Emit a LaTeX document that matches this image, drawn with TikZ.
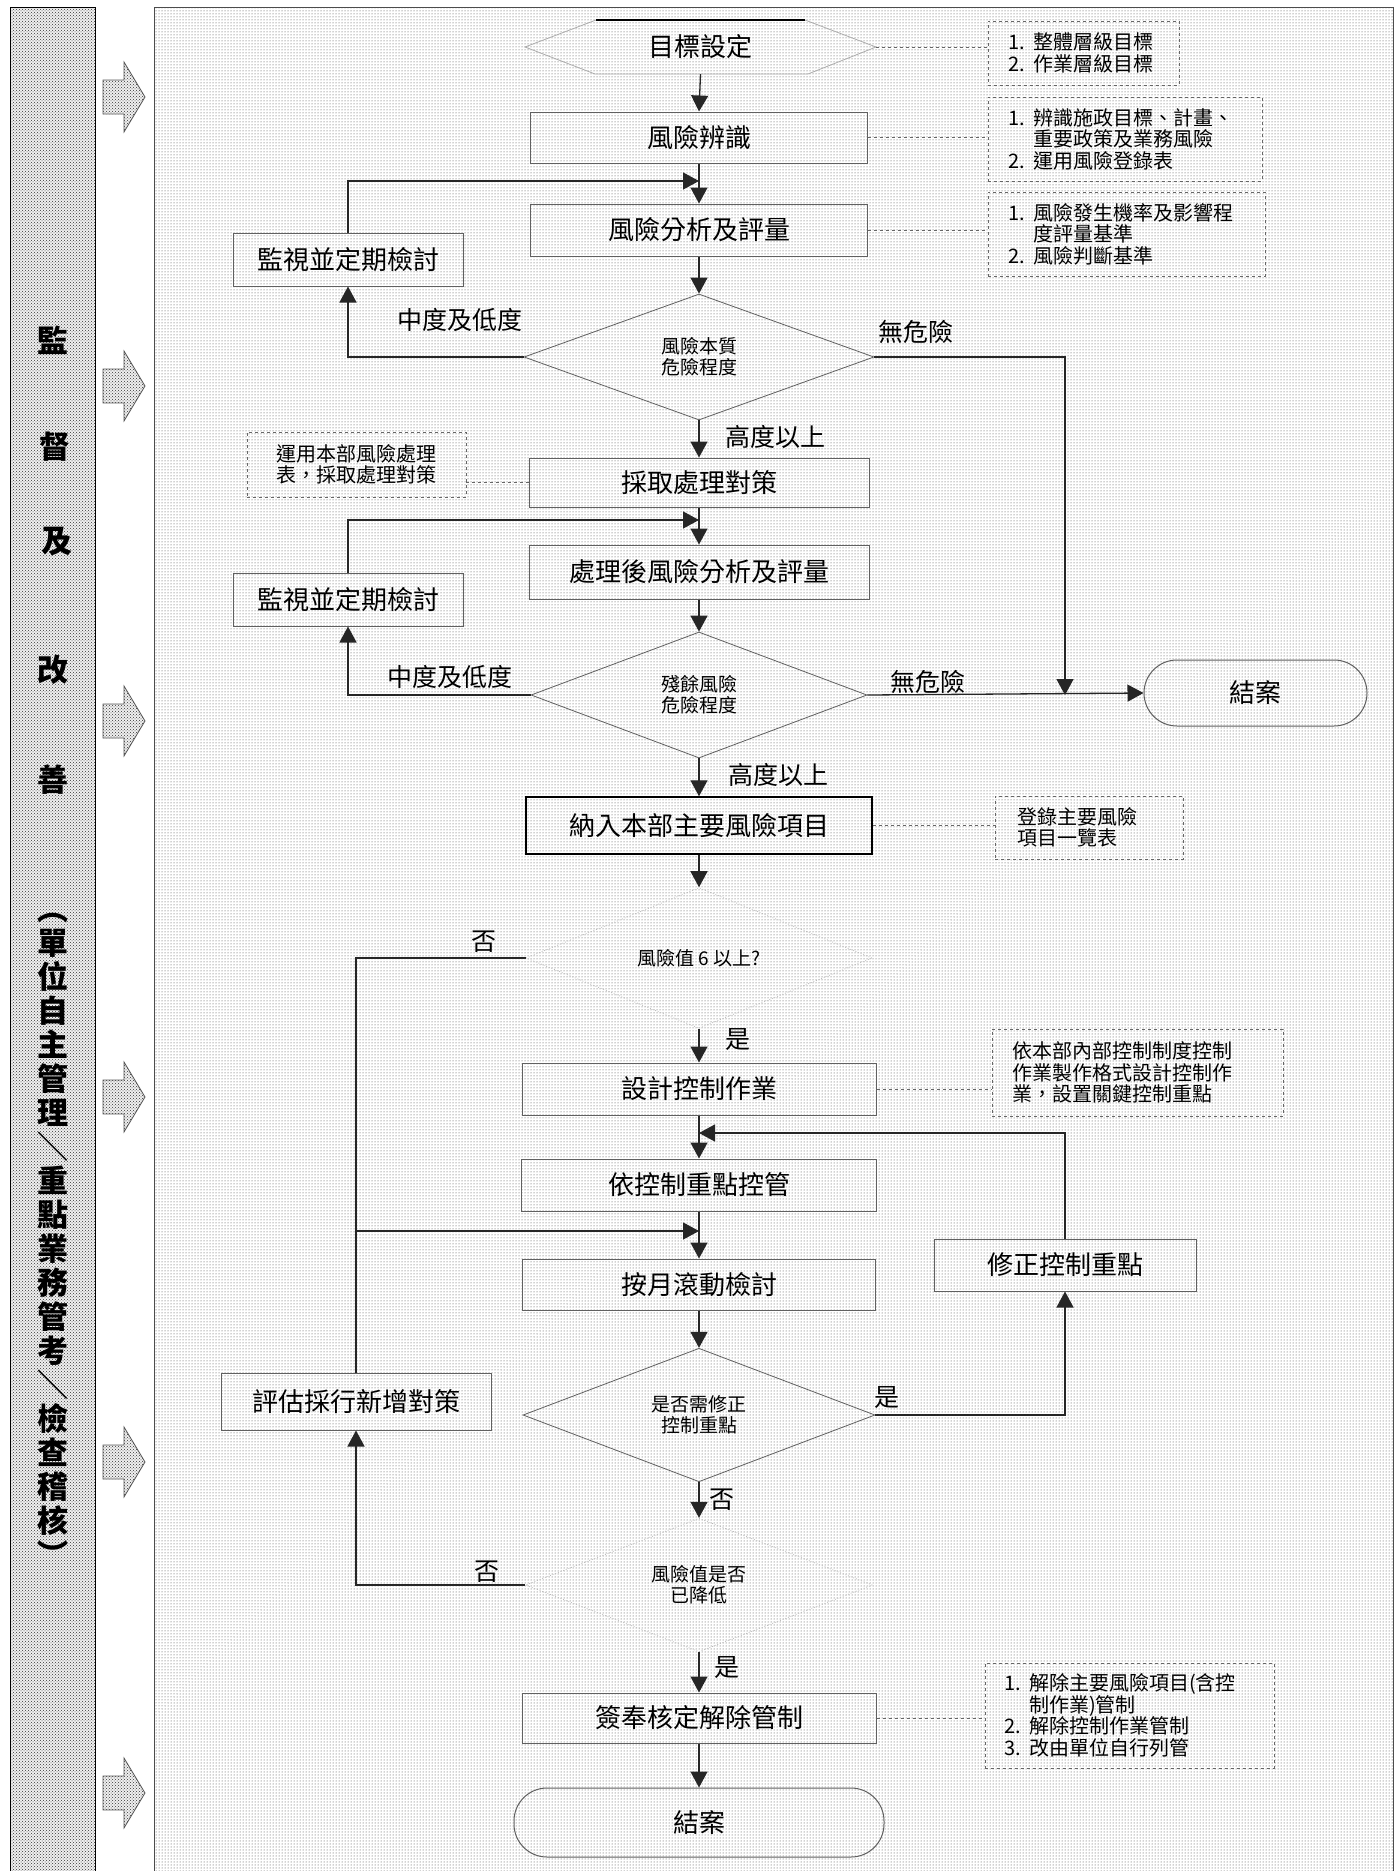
\documentclass[tikz,border=0pt]{standalone}
\usepackage{fontspec}
\setmainfont{Noto Sans CJK TC}
\usetikzlibrary{shapes.geometric,arrows.meta,patterns}
\newcommand\numlab[1]{\makebox[25pt][l]{#1}}
\begin{document}
\begin{tikzpicture}[x=1pt,y=-1pt,
  conn/.style={draw=black!85, line width=1.3pt},
  arr/.style={conn, -{Triangle[length=16pt,width=17pt]}},
  box/.style={draw=gray!75!black, line width=1pt, inner sep=0pt, font=\fontsize{26}{30}\selectfont},
  dia/.style={diamond, draw=gray!75!black, line width=0.8pt, inner sep=0pt, align=center, font=\fontsize{19}{21}\selectfont},
  faintdia/.style={dia, draw=gray!55, dotted},
  note/.style={draw=gray!80!black, dashed, line width=0.8pt, inner sep=0pt, align=left, font=\fontsize{20}{21.5}\selectfont},
  lbl/.style={font=\fontsize{25}{27}\selectfont, inner sep=0pt},
  side/.style={font=\fontsize{31}{34}\selectfont\bfseries, inner sep=0pt, align=center},
  term/.style={box, rounded corners=33pt},
  dashlink/.style={draw=gray!80!black, dashed, line width=0.8pt},
  blockarrow/.style={draw=gray!70!black, line width=0.8pt, preaction={fill=gray!12}, pattern=crosshatch dots, pattern color=black!80}
]
\useasboundingbox (0,0) rectangle (1397,1871);
\fill[white] (0,0) rectangle (1397,1871);
% left strip
\path[preaction={fill=gray!12}, pattern=crosshatch dots, pattern color=black!80] (10,7) rectangle (95,1871);
\draw[black, line width=1pt] (10,1871) -- (10,7) -- (95,7) -- (95,1871);
% main panel
\path[pattern=dots, pattern color=black!75] (154,7) rectangle (1393,1871);
\draw[gray!60!black, line width=1pt] (154,1871) -- (154,7) -- (1393,7) -- (1393,1871);
% block arrows
\foreach \yc in {97,386,721,1097,1462,1793}
  \draw[blockarrow] (103,\yc-17) -- (124,\yc-17) -- (124,\yc-35) -- (145,\yc) -- (124,\yc+35) -- (124,\yc+17) -- (103,\yc+17) -- cycle;
% side texts
\node[side] (s1) at (53,340) {監};
\node[side] (s2) at (55,447) {督};
\node[side] (s3) at (57,542) {及};
\node[side] (s4) at (53,670) {改};
\node[side] (s5) at (53,780) {善};
\node[side] (s6) at (53,1240) {︵\\單\\位\\自\\主\\管\\理\\＼\\重\\點\\業\\務\\管\\考\\＼\\檢\\查\\稽\\核\\︶};

% goal hexagon
\node[inner sep=0pt, minimum width=351, minimum height=54, font=\fontsize{26}{30}\selectfont] (goal) at (700.5,47) {目標設定};
\draw[gray!65, line width=0.8pt] (525,47) -- (596,20) -- (805,20) -- (876,47) -- (808,74) -- (595,74) -- cycle;
\draw[black, line width=1.3pt] (596,20) -- (805,20);

% main nodes
\node[box, minimum width=337, minimum height=51] (riskid) at (699,137.5) {風險辨識};
\node[box, minimum width=337, minimum height=52] (analysis) at (699,230) {風險分析及評量};
\node[box, minimum width=230, minimum height=53] (mon1) at (348,259.5) {監視並定期檢討};
\node[dia, minimum width=350, minimum height=126] (d1) at (699,357) {風險本質\\危險程度};
\node[box, minimum width=340, minimum height=49] (treat) at (699,482.5) {採取處理對策};
\node[box, minimum width=340, minimum height=54] (post) at (699,572) {處理後風險分析及評量};
\node[box, minimum width=230, minimum height=53] (mon2) at (348,599.5) {監視並定期檢討};
\node[dia, minimum width=336, minimum height=126] (d2) at (699,695) {殘餘風險\\危險程度};
\node[term, minimum width=223, minimum height=66] (end1) at (1255.5,693) {結案};
\node[box, draw=black, line width=1.5pt, minimum width=346, minimum height=57] (incl) at (699,825.5) {納入本部主要風險項目};
\node[faintdia, minimum width=346, minimum height=130] (d3) at (699,958) {風險值 6 以上?};
\node[box, minimum width=354, minimum height=52] (design) at (699,1089) {設計控制作業};
\node[box, minimum width=355, minimum height=52] (ctrl) at (699,1185) {依控制重點控管};
\node[box, minimum width=353, minimum height=51] (month) at (699,1284.5) {按月滾動檢討};
\node[box, minimum width=262, minimum height=52] (fix) at (1065,1265) {修正控制重點};
\node[dia, minimum width=352, minimum height=130] (d4) at (699,1415) {是否需修正\\控制重點};
\node[box, minimum width=270, minimum height=57] (eval) at (356,1401.5) {評估採行新增對策};
\node[faintdia, minimum width=347, minimum height=124] (d5) at (699,1585) {風險值是否\\已降低};
\node[box, minimum width=354, minimum height=50] (release) at (699,1718) {簽奉核定解除管制};
\node[term, minimum width=370, minimum height=69] (end2) at (699,1822.5) {結案};

% notes
\node[note, minimum width=191, minimum height=64, text width=151] (n1) at (1083.5,53) {\numlab{1.}整體層級目標\\\numlab{2.}作業層級目標};
\node[note, minimum width=274, minimum height=84, text width=234] (n2) at (1125,139) {\numlab{1.}辨識施政目標、計畫、\\\hspace*{25pt}重要政策及業務風險\\\numlab{2.}運用風險登錄表};
\node[note, minimum width=277, minimum height=84, text width=237] (n3) at (1126.5,234) {\numlab{1.}風險發生機率及影響程\\\hspace*{25pt}度評量基準\\\numlab{2.}風險判斷基準};
\node[note, align=center, minimum width=219, minimum height=65, text width=190] (n4) at (356.5,464.5) {運用本部風險處理\\表，採取處理對策};
\node[note, minimum width=188, minimum height=63, text width=144] (n5) at (1089,827.5) {登錄主要風險\\項目一覽表};
\node[note, minimum width=291, minimum height=87, text width=251] (n6) at (1137.5,1072.5) {依本部內部控制制度控制\\作業製作格式設計控制作\\業，設置關鍵控制重點};
\node[note, minimum width=289, minimum height=105, text width=251] (n7) at (1129.5,1715.5) {\numlab{1.}解除主要風險項目(含控\\\hspace*{25pt}制作業)管制\\\numlab{2.}解除控制作業管制\\\numlab{3.}改由單位自行列管};

% dashed links
\draw[dashlink] (goal.east) -- (goal.east -| n1.west);
\draw[dashlink] (riskid.east) -- (riskid.east -| n2.west);
\draw[dashlink] (analysis.east) -- (analysis.east -| n3.west);
\draw[dashlink] (treat.west) -- (treat.west -| n4.east);
\draw[dashlink] (incl.east) -- (incl.east -| n5.west);
\draw[dashlink] (design.east) -- (design.east -| n6.west);
\draw[dashlink] (release.east) -- (release.east -| n7.west);

% connectors
\coordinate (j1) at (699,181);
\coordinate (j2) at (1065,695);
\coordinate (j3) at (699,520);
\coordinate (j4) at (699,1133);
\coordinate (j5) at (699,1231);
\draw[arr] (goal.south) -- (riskid.north);
\draw[arr] (riskid.south) -- (analysis.north);
\draw[arr] (mon1.north) |- (j1);
\draw[arr] (analysis.south) -- (d1.north);
\draw[arr] (d1.west) -| (mon1.south);
\draw[arr] (d1.south) -- (treat.north);
\draw[arr] (d1.east) -| (j2);
\draw[arr] (treat.south) -- (post.north);
\draw[arr] (mon2.north) |- (j3);
\draw[arr] (post.south) -- (d2.north);
\draw[arr] (d2.west) -| (mon2.south);
\draw[arr] (d2.east) -- (end1.west);
\draw[arr] (d2.south) -- (incl.north);
\draw[arr] (incl.south) -- (d3.north);
\draw[conn] (d3.west) -| (eval.north);
\draw[arr] (d3.south) -- (design.north);
\draw[arr] (design.south) -- (ctrl.north);
\draw[arr] (fix.north) |- (j4);
\draw[arr] (ctrl.south) -- (month.north);
\draw[arr] (eval.north |- j5) -- (j5);
\draw[arr] (month.south) -- (d4.north);
\draw[arr] (d4.east) -| (fix.south);
\draw[arr] (d4.south) -- (d5.north);
\draw[arr] (d5.west) -| (eval.south);
\draw[arr] (d5.south) -- (release.north);
\draw[arr] (release.south) -- (end2.north);

% labels
\node[lbl] (l1) at (460,320) {中度及低度};
\node[lbl] (l2) at (775,437) {高度以上};
\node[lbl] (l3) at (916,332) {無危險};
\node[lbl] (l4) at (450,677) {中度及低度};
\node[lbl] (l5) at (928,682) {無危險};
\node[lbl] (l6) at (778,775) {高度以上};
\node[lbl] (l7) at (484,942) {否};
\node[lbl] (l8) at (738,1040) {是};
\node[lbl] (l9) at (887,1398) {是};
\node[lbl] (l10) at (722,1500) {否};
\node[lbl] (l11) at (487,1572) {否};
\node[lbl] (l12) at (727,1668) {是};
\end{tikzpicture}
\end{document}
